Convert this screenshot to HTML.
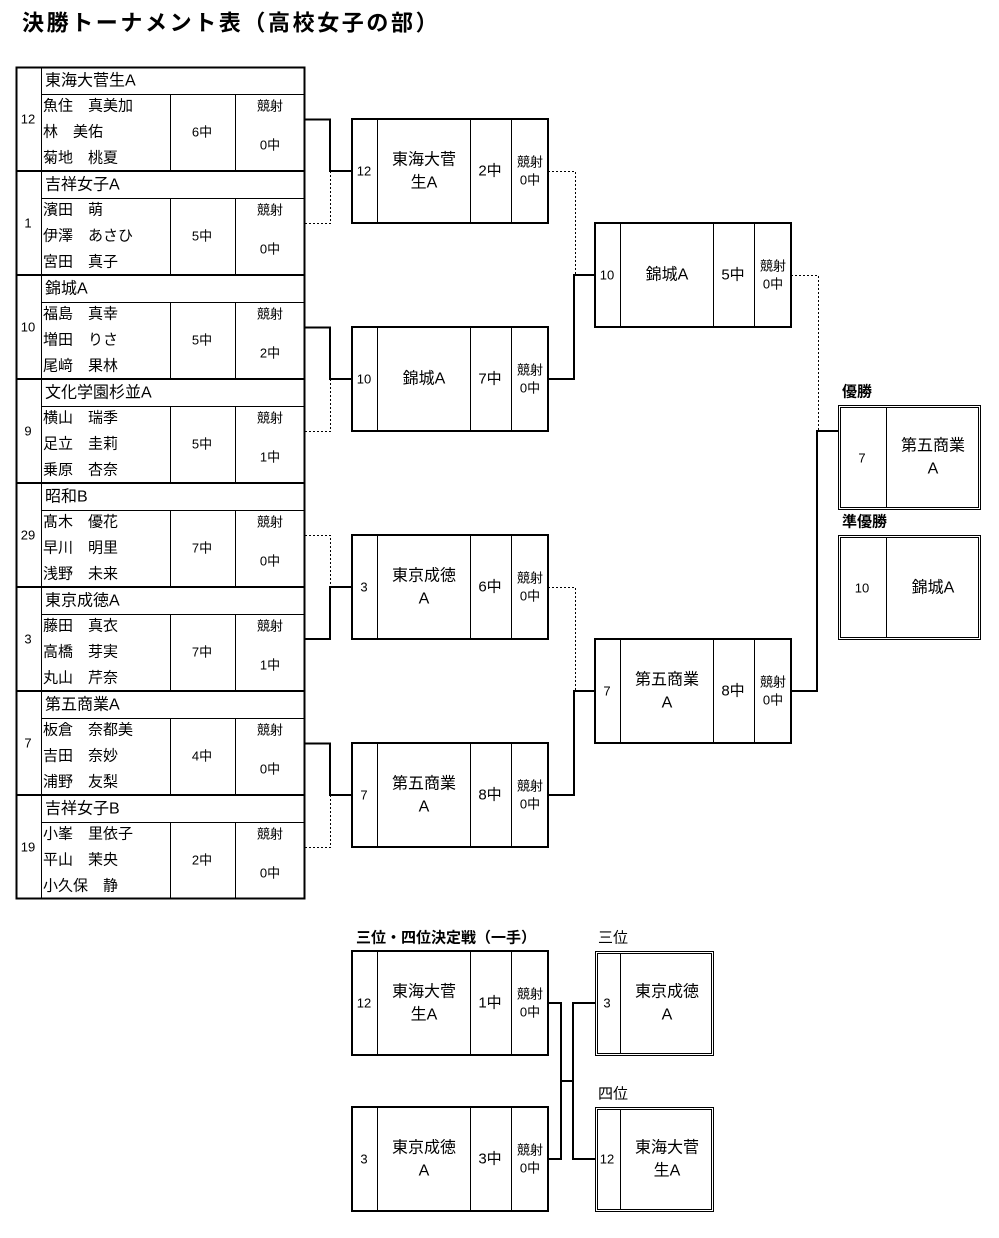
<!DOCTYPE html>
<html><head><meta charset="utf-8"><style>
html,body{margin:0;padding:0;background:#fff;}
svg{display:block;font-family:"Liberation Sans","Noto Sans CJK JP",sans-serif;}
text{fill:#000;dominant-baseline:central;}
.t{font-size:16px}.m{font-size:15px}.s{font-size:13px}.n{font-size:13px}
.b{font-weight:bold}
.c{text-anchor:middle}
</style></head><body>
<svg width="999" height="1238" viewBox="0 0 999 1238" xmlns="http://www.w3.org/2000/svg">
<text x="22" y="23" class="b" style="font-size:22px;letter-spacing:2.6px">決勝トーナメント表（高校女子の部）</text>

<!-- left table -->
<g stroke="#000" fill="none">
<rect x="16.5" y="67.5" width="288" height="831" stroke-width="2"/>
<line x1="41.5" y1="67" x2="41.5" y2="899"/>
<g stroke-width="2">
<line x1="16" y1="171" x2="305" y2="171"/><line x1="16" y1="275" x2="305" y2="275"/>
<line x1="16" y1="379" x2="305" y2="379"/><line x1="16" y1="483" x2="305" y2="483"/>
<line x1="16" y1="587" x2="305" y2="587"/><line x1="16" y1="691" x2="305" y2="691"/>
<line x1="16" y1="795" x2="305" y2="795"/>
</g>
<g>
<line x1="41" y1="94.5" x2="305" y2="94.5"/><line x1="41" y1="198.5" x2="305" y2="198.5"/>
<line x1="41" y1="302.5" x2="305" y2="302.5"/><line x1="41" y1="406.5" x2="305" y2="406.5"/>
<line x1="41" y1="510.5" x2="305" y2="510.5"/><line x1="41" y1="614.5" x2="305" y2="614.5"/>
<line x1="41" y1="718.5" x2="305" y2="718.5"/><line x1="41" y1="822.5" x2="305" y2="822.5"/>
<path d="M170.5 94V171M235.5 94V171M170.5 198V275M235.5 198V275M170.5 302V379M235.5 302V379M170.5 406V483M235.5 406V483M170.5 510V587M235.5 510V587M170.5 614V691M235.5 614V691M170.5 718V795M235.5 718V795M170.5 822V899M235.5 822V899"/>
</g>
</g>

<!-- block texts -->
<g>
<text x="28" y="119" class="n c">12</text><text x="45" y="81" class="t">東海大菅生A</text>
<text x="43" y="106" class="m">魚住　真美加</text><text x="43" y="132" class="m">林　美佑</text><text x="43" y="158" class="m">菊地　桃夏</text>
<text x="202" y="132" class="s c">6中</text><text x="270" y="106" class="s c">競射</text><text x="270" y="145" class="s c">0中</text>

<text x="28" y="223" class="n c">1</text><text x="45" y="185" class="t">吉祥女子A</text>
<text x="43" y="210" class="m">濱田　萌</text><text x="43" y="236" class="m">伊澤　あさひ</text><text x="43" y="262" class="m">宮田　真子</text>
<text x="202" y="236" class="s c">5中</text><text x="270" y="210" class="s c">競射</text><text x="270" y="249" class="s c">0中</text>

<text x="28" y="327" class="n c">10</text><text x="45" y="289" class="t">錦城A</text>
<text x="43" y="314" class="m">福島　真幸</text><text x="43" y="340" class="m">増田　りさ</text><text x="43" y="366" class="m">尾﨑　果林</text>
<text x="202" y="340" class="s c">5中</text><text x="270" y="314" class="s c">競射</text><text x="270" y="353" class="s c">2中</text>

<text x="28" y="431" class="n c">9</text><text x="45" y="393" class="t">文化学園杉並A</text>
<text x="43" y="418" class="m">横山　瑞季</text><text x="43" y="444" class="m">足立　圭莉</text><text x="43" y="470" class="m">乗原　杏奈</text>
<text x="202" y="444" class="s c">5中</text><text x="270" y="418" class="s c">競射</text><text x="270" y="457" class="s c">1中</text>

<text x="28" y="535" class="n c">29</text><text x="45" y="497" class="t">昭和B</text>
<text x="43" y="522" class="m">髙木　優花</text><text x="43" y="548" class="m">早川　明里</text><text x="43" y="574" class="m">浅野　未来</text>
<text x="202" y="548" class="s c">7中</text><text x="270" y="522" class="s c">競射</text><text x="270" y="561" class="s c">0中</text>

<text x="28" y="639" class="n c">3</text><text x="45" y="601" class="t">東京成徳A</text>
<text x="43" y="626" class="m">藤田　真衣</text><text x="43" y="652" class="m">高橋　芽実</text><text x="43" y="678" class="m">丸山　芹奈</text>
<text x="202" y="652" class="s c">7中</text><text x="270" y="626" class="s c">競射</text><text x="270" y="665" class="s c">1中</text>

<text x="28" y="743" class="n c">7</text><text x="45" y="705" class="t">第五商業A</text>
<text x="43" y="730" class="m">板倉　奈都美</text><text x="43" y="756" class="m">吉田　奈妙</text><text x="43" y="782" class="m">浦野　友梨</text>
<text x="202" y="756" class="s c">4中</text><text x="270" y="730" class="s c">競射</text><text x="270" y="769" class="s c">0中</text>

<text x="28" y="847" class="n c">19</text><text x="45" y="809" class="t">吉祥女子B</text>
<text x="43" y="834" class="m">小峯　里依子</text><text x="43" y="860" class="m">平山　茉央</text><text x="43" y="886" class="m">小久保　静</text>
<text x="202" y="860" class="s c">2中</text><text x="270" y="834" class="s c">競射</text><text x="270" y="873" class="s c">0中</text>
</g>

<!-- connectors -->
<g fill="none" stroke="#000">
<path d="M305 119.5H330V171H352" stroke-width="2"/>
<path d="M305 223.5H330.5V171" stroke-dasharray="2,2"/>
<path d="M305 327.5H330V379H352" stroke-width="2"/>
<path d="M305 431.5H330.5V379" stroke-dasharray="2,2"/>
<path d="M305 535.5H330.5V587" stroke-dasharray="2,2"/>
<path d="M305 639H330V587H352" stroke-width="2"/>
<path d="M305 743.5H330V795H352" stroke-width="2"/>
<path d="M305 847.5H330.5V795" stroke-dasharray="2,2"/>

<path d="M548 171.5H575.5V275" stroke-dasharray="2,2"/>
<path d="M548 379H574V275H595" stroke-width="2"/>
<path d="M548 587.5H575.5V691" stroke-dasharray="2,2"/>
<path d="M548 795H574V691H595" stroke-width="2"/>

<path d="M791 275.5H818.5V431" stroke-dasharray="2,2"/>
<path d="M791 691H817V431H838" stroke-width="2"/>

<path d="M548 1003H561V1159H548M561 1081H573M595 1003H573V1159H595" stroke-width="2"/>
</g>

<!-- match boxes -->
<g fill="none" stroke="#000">
<g stroke-width="2">
<rect x="352" y="119" width="196" height="104"/><rect x="352" y="327" width="196" height="104"/>
<rect x="352" y="535" width="196" height="104"/><rect x="352" y="743" width="196" height="104"/>
<rect x="595" y="223" width="196" height="104"/><rect x="595" y="639" width="196" height="104"/>
<rect x="352" y="951" width="196" height="104"/><rect x="352" y="1107" width="196" height="104"/>
</g>
<path d="M377.5 119V223M470.5 119V223M511.5 119V223M377.5 327V431M470.5 327V431M511.5 327V431M377.5 535V639M470.5 535V639M511.5 535V639M377.5 743V847M470.5 743V847M511.5 743V847M620.5 223V327M713.5 223V327M754.5 223V327M620.5 639V743M713.5 639V743M754.5 639V743M377.5 951V1055M470.5 951V1055M511.5 951V1055M377.5 1107V1211M470.5 1107V1211M511.5 1107V1211"/>
<!-- double boxes -->
<rect x="838.5" y="405.5" width="142" height="104"/><rect x="840.5" y="407.5" width="138" height="100"/>
<line x1="886.5" y1="407" x2="886.5" y2="508"/>
<rect x="838.5" y="535.5" width="142" height="104"/><rect x="840.5" y="537.5" width="138" height="100"/>
<line x1="886.5" y1="537" x2="886.5" y2="638"/>
<rect x="595.5" y="951.5" width="118" height="104"/><rect x="597.5" y="953.5" width="114" height="100"/>
<line x1="620.5" y1="953" x2="620.5" y2="1054"/>
<rect x="595.5" y="1107.5" width="118" height="104"/><rect x="597.5" y="1109.5" width="114" height="100"/>
<line x1="620.5" y1="1109" x2="620.5" y2="1210"/>
</g>

<!-- match texts -->
<g>
<text x="364" y="171" class="n c">12</text><text x="424" y="160" class="t c">東海大菅</text><text x="424" y="183" class="t c">生A</text>
<text x="490" y="171" class="m c">2中</text><text x="530" y="162" class="s c">競射</text><text x="530" y="180" class="s c">0中</text>

<text x="364" y="379" class="n c">10</text><text x="424" y="379" class="t c">錦城A</text>
<text x="490" y="379" class="m c">7中</text><text x="530" y="370" class="s c">競射</text><text x="530" y="388" class="s c">0中</text>

<text x="364" y="587" class="n c">3</text><text x="424" y="576" class="t c">東京成徳</text><text x="424" y="599" class="t c">A</text>
<text x="490" y="587" class="m c">6中</text><text x="530" y="578" class="s c">競射</text><text x="530" y="596" class="s c">0中</text>

<text x="364" y="795" class="n c">7</text><text x="424" y="784" class="t c">第五商業</text><text x="424" y="807" class="t c">A</text>
<text x="490" y="795" class="m c">8中</text><text x="530" y="786" class="s c">競射</text><text x="530" y="804" class="s c">0中</text>

<text x="607" y="275" class="n c">10</text><text x="667" y="275" class="t c">錦城A</text>
<text x="733" y="275" class="m c">5中</text><text x="773" y="266" class="s c">競射</text><text x="773" y="284" class="s c">0中</text>

<text x="607" y="691" class="n c">7</text><text x="667" y="680" class="t c">第五商業</text><text x="667" y="703" class="t c">A</text>
<text x="733" y="691" class="m c">8中</text><text x="773" y="682" class="s c">競射</text><text x="773" y="700" class="s c">0中</text>

<text x="842" y="392" class="m b">優勝</text>
<text x="862" y="458" class="n c">7</text><text x="933" y="446" class="t c">第五商業</text><text x="933" y="469" class="t c">A</text>
<text x="842" y="522" class="m b">準優勝</text>
<text x="862" y="588" class="n c">10</text><text x="933" y="588" class="t c">錦城A</text>

<text x="356" y="938" class="m b">三位・四位決定戦（一手）</text>
<text x="364" y="1003" class="n c">12</text><text x="424" y="992" class="t c">東海大菅</text><text x="424" y="1015" class="t c">生A</text>
<text x="490" y="1003" class="m c">1中</text><text x="530" y="994" class="s c">競射</text><text x="530" y="1012" class="s c">0中</text>

<text x="364" y="1159" class="n c">3</text><text x="424" y="1148" class="t c">東京成徳</text><text x="424" y="1171" class="t c">A</text>
<text x="490" y="1159" class="m c">3中</text><text x="530" y="1150" class="s c">競射</text><text x="530" y="1168" class="s c">0中</text>

<text x="598" y="938" class="m">三位</text>
<text x="607" y="1003" class="n c">3</text><text x="667" y="992" class="t c">東京成徳</text><text x="667" y="1015" class="t c">A</text>
<text x="598" y="1094" class="m">四位</text>
<text x="607" y="1159" class="n c">12</text><text x="667" y="1148" class="t c">東海大菅</text><text x="667" y="1171" class="t c">生A</text>
</g>
</svg>
</body></html>
